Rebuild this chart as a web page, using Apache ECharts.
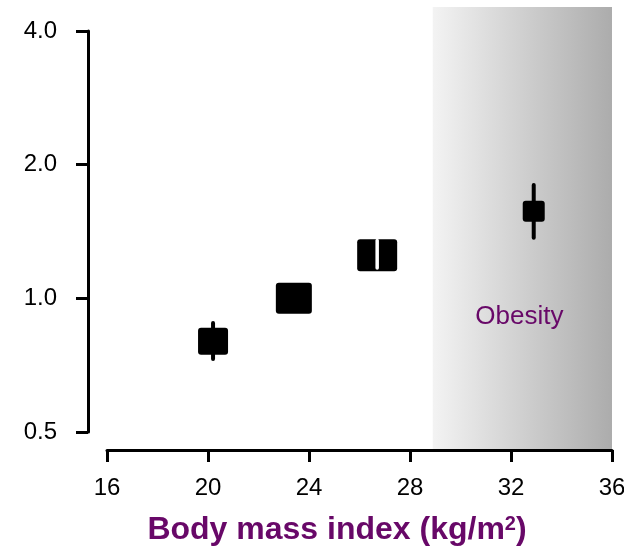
<!DOCTYPE html>
<html><head><meta charset="utf-8">
<script src="https://cdn.jsdelivr.net/npm/echarts/dist/echarts.min.js"></script>
<style>html,body{margin:0;padding:0;background:#fff}#c{width:624px;height:552px}</style>
</head><body><div id="c"></div>
<script>
// ---- data ----
const bmi = [20.2, 23.4, 26.7, 32.9];
const hazard = [0.80, 1.00, 1.25, 1.57];
const ciLow = [0.73, 1.00, 1.17, 1.37];
const ciHigh = [0.88, 1.00, 1.35, 1.80];
const markerWeight = [[30, 27], [36, 31], [40, 32], [22, 21]];
const xTicks = [16, 20, 24, 28, 32, 36];
const yTicks = [0.5, 1.0, 2.0, 4.0];
const obesityBand = [28.9, 36];
const obesityLabel = 'Obesity';

const purple = '#680868';
const font = "'Liberation Sans', Arial, sans-serif";

const chart = echarts.init(document.getElementById('c'), null, {renderer: 'canvas'});

const pointData = bmi.map((x, i) => [x, hazard[i], ciLow[i], ciHigh[i]]);

chart.setOption({
  animation: false,
  backgroundColor: '#fff',
  grid: {left: 107, right: 12, top: 31, bottom: 120, containLabel: false, outerBoundsMode: 'none'},
  xAxis: {
    type: 'value', min: xTicks[0], max: xTicks[xTicks.length - 1], interval: 4,
    offset: 18,
    axisLine: {show: true, lineStyle: {color: '#000', width: 3}},
    axisTick: {show: true, length: 12, lineStyle: {color: '#000', width: 3}},
    splitLine: {show: false},
    axisLabel: {fontSize: 24, color: '#000', fontFamily: font, margin: 26}
  },
  yAxis: {
    type: 'log', logBase: 2, min: yTicks[0], max: yTicks[yTicks.length - 1],
    offset: 19,
    axisLine: {show: true, lineStyle: {color: '#000', width: 3}},
    axisTick: {show: true, length: 12, lineStyle: {color: '#000', width: 3}},
    splitLine: {show: false},
    axisLabel: {fontSize: 24, color: '#000', fontFamily: font, margin: 31,
      formatter: v => Number(v).toFixed(1)}
  },
  graphic: [{
    type: 'text', x: 337, y: 530,
    style: {
      text: '{a|Body mass index (kg/m}{s|2}{a|)}',
      textAlign: 'center', textVerticalAlign: 'middle',
      rich: {
        a: {fontSize: 32, fontWeight: 'bold', fill: purple, fontFamily: font},
        s: {fontSize: 20, fontWeight: 'bold', fill: purple, fontFamily: font, verticalAlign: 'top'}
      }
    }
  }],
  series: [
    {
      type: 'custom', clip: false, z: 1, silent: true,
      data: [[obesityBand[0], obesityBand[1]]],
      renderItem: function (params, api) {
        const top = api.coord([obesityBand[0], yTicks[yTicks.length - 1]])[1] - 24;
        const bottom = api.coord([obesityBand[0], yTicks[0]])[1] + 17;
        const l = api.coord([api.value(0), yTicks[0]])[0];
        const r = api.coord([api.value(1), yTicks[0]])[0];
        const mid = api.coord([(api.value(0) + api.value(1)) / 2, 0.91]);
        return {
          type: 'group',
          children: [{
            type: 'rect',
            shape: {x: l, y: top, width: r - l, height: bottom - top},
            style: {fill: new echarts.graphic.LinearGradient(0, 0, 1, 0, [
              {offset: 0, color: '#f3f3f3'}, {offset: 1, color: '#acacac'}])}
          }, {
            type: 'text', x: mid[0] - 3, y: mid[1],
            style: {text: obesityLabel, fill: purple, fontSize: 26, fontFamily: font,
              textAlign: 'center', textVerticalAlign: 'middle'}
          }]
        };
      }
    },
    {
      type: 'custom', clip: false, z: 3, silent: true,
      data: pointData,
      renderItem: function (params, api) {
        const i = params.dataIndex;
        const x = api.value(0), y = api.value(1), lo = api.value(2), hi = api.value(3);
        const w = markerWeight[i][0], h = markerWeight[i][1];
        const c = api.coord([x, y]);
        const pLo = api.coord([x, lo]), pHi = api.coord([x, hi]);
        const inside = pLo[1] <= c[1] + h / 2 && pHi[1] >= c[1] - h / 2;
        const children = [];
        if (hi > lo && !inside) {
          children.push({type: 'line', shape: {x1: c[0], y1: pLo[1], x2: c[0], y2: pHi[1]},
            style: {stroke: '#000', lineWidth: 4, lineCap: 'round'}});
        }
        children.push({type: 'rect', shape: {x: c[0] - w / 2, y: c[1] - h / 2, width: w, height: h, r: 3},
          style: {fill: '#000'}});
        if (hi > lo && inside) {
          children.push({type: 'line', shape: {x1: c[0], y1: pLo[1], x2: c[0], y2: pHi[1]},
            style: {stroke: '#fff', lineWidth: 3.5, lineCap: 'round'}});
        }
        return {type: 'group', children: children};
      }
    }
  ]
});
</script>
</body></html>
